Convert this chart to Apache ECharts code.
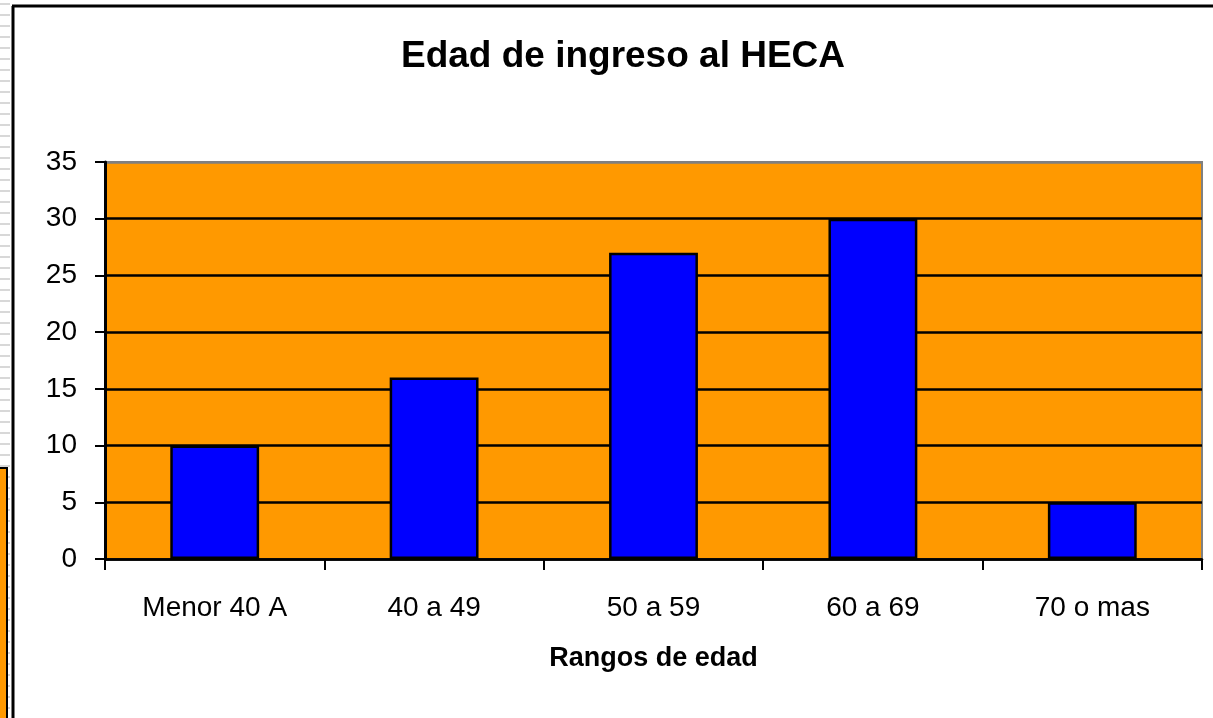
<!DOCTYPE html>
<html>
<head>
<meta charset="utf-8">
<script src="https://cdn.jsdelivr.net/npm/echarts@6/dist/echarts.min.js"></script>
<style>
html,body{margin:0;padding:0;background:#fff;}
#chart{width:1213px;height:718px;}
</style>
</head>
<body>
<div id="chart"></div>
<script>
const titleText = 'Edad de ingreso al HECA';
const axisName = 'Rangos de edad';
const categories = ['Menor 40 A', '40 a 49', '50 a 59', '60 a 69', '70 o mas'];
const values = [10, 16, 27, 30, 5];
const yTicks = [0, 5, 10, 15, 20, 25, 30, 35];

const chart = echarts.init(document.getElementById('chart'), null, {renderer: 'canvas'});

// decorative left-edge stripes
const stripes = [];
for (let y = 4; y < 718; y += 11) {
  stripes.push({type: 'line', shape: {x1: 0, y1: y, x2: 10, y2: y}, style: {stroke: '#d8d8d8', lineWidth: 2}, silent: true});
}

const FONT = '"Liberation Sans", Arial, sans-serif';

const option = {
  backgroundColor: '#ffffff',
  animation: false,
  grid: {left: 105, right: 11, top: 162, bottom: 159, show: true, backgroundColor: '#ff9900', borderColor: '#808080', borderWidth: 2},
  xAxis: {
    type: 'category',
    data: categories,
    boundaryGap: true,
    name: axisName,
    nameLocation: 'middle',
    nameGap: 86,
    nameTextStyle: {fontFamily: FONT, fontWeight: 'bold', fontSize: 27, color: '#000'},
    axisLine: {show: true, lineStyle: {color: '#000', width: 2.5}},
    axisTick: {show: true, alignWithLabel: false, length: 11, lineStyle: {color: '#000', width: 2}},
    axisLabel: {margin: 35, fontFamily: FONT, fontSize: 28, color: '#000'},
    splitLine: {show: false}
  },
  yAxis: {
    type: 'value',
    min: yTicks[0],
    max: yTicks[yTicks.length - 1],
    interval: 5,
    axisLine: {show: true, lineStyle: {color: '#000', width: 3}},
    axisTick: {show: true, length: 10, lineStyle: {color: '#000', width: 2}},
    axisLabel: {margin: 28, fontFamily: FONT, fontSize: 28, color: '#000'},
    splitLine: {show: true, lineStyle: {color: ['#000', '#000', '#000', '#000', '#000', '#000', '#000', '#808080'], width: 2.5}}
  },
  series: [{
    type: 'bar',
    data: values,
    barWidth: '40.5%',
    itemStyle: {color: '#0000ff', borderColor: '#000', borderWidth: 2.5}
  }],
  graphic: [
    ...stripes,
    {type: 'rect', shape: {x: -2, y: 468, width: 9, height: 260}, style: {fill: '#ff9900', stroke: '#000', lineWidth: 2}, silent: true},
    {type: 'line', shape: {x1: 13, y1: 6, x2: 13, y2: 718}, style: {stroke: '#000', lineWidth: 3}, silent: true},
    {type: 'line', shape: {x1: 12, y1: 6, x2: 1213, y2: 6}, style: {stroke: '#000', lineWidth: 3}, silent: true},
    {type: 'text', x: 623, y: 57, style: {text: titleText, fontFamily: FONT, fontWeight: 'bold', fontSize: 37, fill: '#000', textAlign: 'center', textVerticalAlign: 'middle'}}
  ]
};
chart.setOption(option);
</script>
</body>
</html>
